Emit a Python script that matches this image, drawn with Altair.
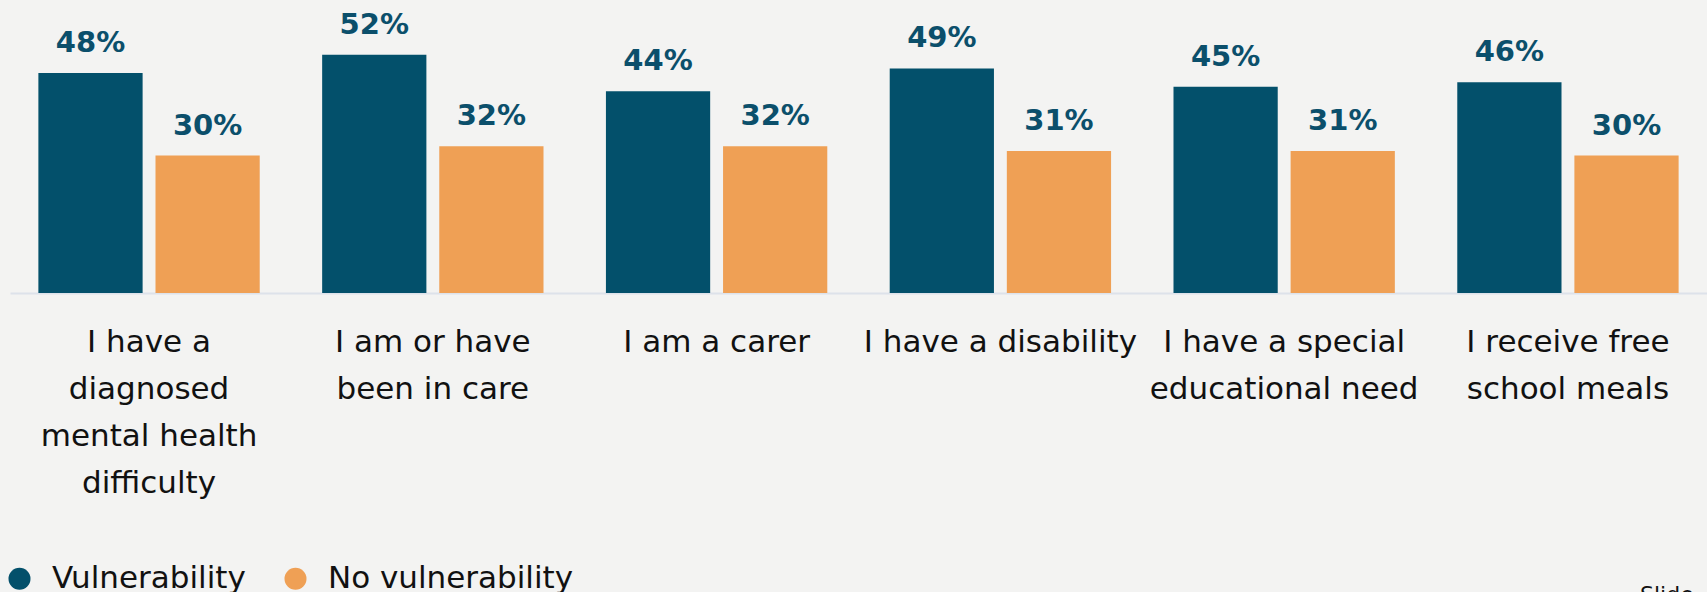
import altair as alt
import pandas as pd

categories = [
    "I have a|diagnosed|mental health|difficulty",
    "I am or have|been in care",
    "I am a carer",
    "I have a disability",
    "I have a special|educational need",
    "I receive free|school meals",
]
series = ["Vulnerability", "No vulnerability"]
vulnerability = [48, 52, 44, 49, 45, 46]
no_vulnerability = [30, 32, 32, 31, 31, 30]
colors = ["#03506b", "#efa055"]

rows = []
for c, v, n in zip(categories, vulnerability, no_vulnerability):
    rows.append({"cat": c, "group": series[0], "value": v, "label": f"{v}%"})
    rows.append({"cat": c, "group": series[1], "value": n, "label": f"{n}%"})
df = pd.DataFrame(rows)

FONT = "DejaVu Sans"

x = alt.X(
    "cat:N",
    sort=categories,
    scale=alt.Scale(paddingInner=0.22, paddingOuter=0.1),
    axis=alt.Axis(
        title=None,
        labelAngle=0,
        labelExpr="split(datum.label, '|')",
        labelFont=FONT,
        labelFontSize=31,
        labelColor="#111111",
        labelLineHeight=47,
        labelPadding=34,
        labelLimit=400,
        ticks=False,
        domainColor="#dde2ea",
        domainWidth=2,
        grid=False,
    ),
)
xoff = alt.XOffset("group:N", sort=series, scale=alt.Scale(paddingInner=0.11))
y = alt.Y("value:Q", scale=alt.Scale(domain=[0, 60]), axis=None)

bars = alt.Chart(df).mark_bar().encode(
    x=x,
    xOffset=xoff,
    y=y,
    color=alt.Color(
        "group:N",
        sort=series,
        scale=alt.Scale(domain=series, range=colors),
        legend=alt.Legend(
            title=None,
            orient="none",
            legendX=-6,
            legendY=545,
            direction="horizontal",
            symbolType="circle",
            symbolSize=484,
            symbolStrokeWidth=0,
            labelFont=FONT,
            labelFontSize=31,
            labelColor="#111111",
            labelOffset=17,
            columnPadding=34,
            labelLimit=400,
        ),
    ),
)

labels = alt.Chart(df).mark_text(
    baseline="alphabetic",
    dy=-21,
    font=FONT,
    fontSize=29,
    fontWeight="bold",
    color="#0b4f6b",
).encode(x=x, xOffset=xoff, y=y, text="label:N")

slide = alt.Chart(pd.DataFrame({"t": ["Slide"]})).mark_text(
    align="left", baseline="top", font=FONT, fontSize=22, color="#111111"
).encode(x=alt.value(1630), y=alt.value(567), text="t:N")

chart = (
    alt.layer(bars, labels, slide)
    .properties(
        width=1697,
        height=275,
        autosize=alt.AutoSizeParams(type="none"),
        padding={"left": 10, "top": 18, "right": 0, "bottom": 299},
        background="#f3f3f2",
    )
    .configure_view(stroke=None)
)

chart.save("out.html", embed_options={"renderer": "svg", "actions": False})
